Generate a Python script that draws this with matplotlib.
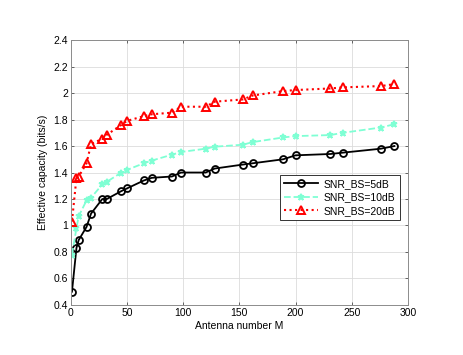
import numpy as np
import matplotlib
matplotlib.use('Agg')
import matplotlib.pyplot as plt
from matplotlib.ticker import FuncFormatter

plt.rcParams['font.family'] = ['Liberation Sans', 'DejaVu Sans']

# antenna numbers
M = [1, 5, 7, 14, 18, 28, 32, 45, 50, 65, 72, 90, 98, 120, 128,
     153, 162, 189, 200, 231, 242, 276, 288]

cap_5db = [0.50, 0.83, 0.89, 0.99, 1.09, 1.20, 1.20, 1.26, 1.28, 1.34, 1.36,
           1.37, 1.40, 1.40, 1.43, 1.46, 1.47, 1.50, 1.53, 1.54, 1.55, 1.58, 1.60]
cap_10db = [0.78, 0.98, 1.07, 1.19, 1.21, 1.31, 1.33, 1.40, 1.42, 1.47, 1.49,
            1.535, 1.555, 1.58, 1.595, 1.61, 1.63, 1.665, 1.675, 1.683, 1.70, 1.74, 1.765]
cap_20db = [1.03, 1.36, 1.37, 1.47, 1.615, 1.655, 1.685, 1.76, 1.79, 1.826, 1.84,
            1.852, 1.897, 1.897, 1.935, 1.952, 1.982, 2.015, 2.023, 2.035, 2.043, 2.053, 2.068]

labels = ['SNR_BS=5dB', 'SNR_BS=10dB', 'SNR_BS=20dB']

fig = plt.figure(figsize=(4.63, 3.55), dpi=100)
ax = fig.add_axes([0.153, 0.141, 0.728, 0.746])

ax.plot(M, cap_5db, color='black', linestyle='-', linewidth=1.3,
        marker='o', markersize=5, markerfacecolor='none',
        markeredgewidth=1.3, label=labels[0])
ax.plot(M, cap_10db, color='#7fffd4', linestyle='--', linewidth=1.3,
        marker='*', markersize=5, markeredgewidth=1.3, label=labels[1])
ax.plot(M, cap_20db, color='red', linestyle=':', linewidth=1.5,
        marker='^', markersize=6, markerfacecolor='none',
        markeredgewidth=1.4, label=labels[2])

ax.set_xlim(0, 300)
ax.set_ylim(0.4, 2.4)
ax.set_xticks(np.arange(0, 301, 50))
ax.set_yticks(np.arange(0.4, 2.41, 0.2))
ax.yaxis.set_major_formatter(FuncFormatter(lambda v, p: '%g' % round(v, 1)))

ax.grid(True, color='#dcdcdc', linestyle='-', linewidth=0.6)
ax.set_axisbelow(True)
ax.tick_params(direction='in', top=True, right=True, labelsize=7.5,
               length=2.5, width=0.6, color='0.3', pad=2)
for s in ax.spines.values():
    s.set_color('0.55')
    s.set_linewidth(0.7)

ax.set_xlabel('Antenna number M', fontsize=7.5, labelpad=2)
ax.set_ylabel('Effective capacity (bits/s)', fontsize=7.5, labelpad=4)

leg = ax.legend(loc='upper right', bbox_to_anchor=(0.976, 0.492),
                fontsize=7.5, fancybox=False, framealpha=1,
                borderpad=0.4, handlelength=3.2, labelspacing=0.35,
                handletextpad=0.6, borderaxespad=0)
leg.get_frame().set_edgecolor('0.2')
leg.get_frame().set_linewidth(0.7)

fig.savefig('out.png', dpi=100)
